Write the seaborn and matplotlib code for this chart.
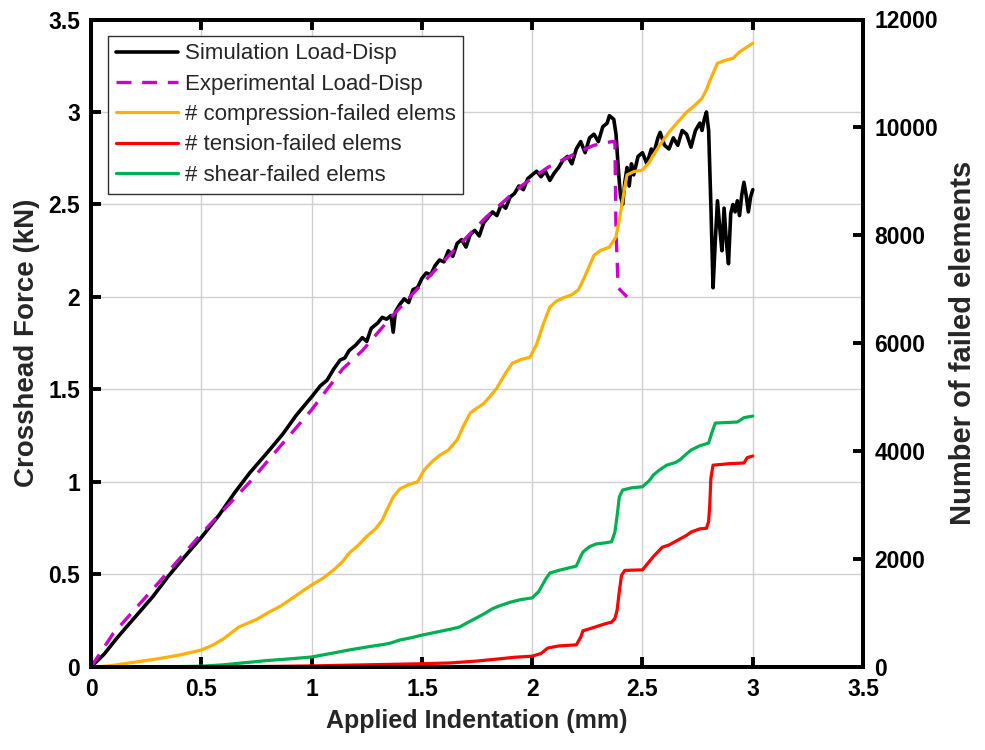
import matplotlib
matplotlib.use("Agg")
import matplotlib.pyplot as plt
import seaborn as sns
import pandas as pd

# ---------------- data ----------------
sim_x = [0.00, 0.06, 0.12, 0.20, 0.28, 0.35, 0.42, 0.50, 0.58, 0.65, 0.72, 0.80, 0.87, 0.93,
         1.00, 1.04, 1.07, 1.10, 1.13, 1.15, 1.17, 1.20, 1.23, 1.25, 1.27, 1.30, 1.32, 1.34,
         1.36, 1.37, 1.38, 1.40, 1.42, 1.44, 1.46, 1.48, 1.50, 1.52, 1.54, 1.56, 1.58, 1.60,
         1.62, 1.64, 1.66, 1.68, 1.70, 1.72, 1.74, 1.76, 1.78, 1.80, 1.82, 1.84, 1.86, 1.88,
         1.90, 1.92, 1.94, 1.96, 1.98, 2.00, 2.02, 2.04, 2.06, 2.08, 2.10, 2.12, 2.14, 2.16,
         2.18, 2.20, 2.22, 2.24, 2.26, 2.28, 2.30, 2.32, 2.34, 2.35, 2.37, 2.38, 2.39, 2.40,
         2.41, 2.42, 2.43, 2.44, 2.45, 2.46, 2.48, 2.50, 2.52, 2.54, 2.55, 2.57, 2.58, 2.60,
         2.62, 2.64, 2.66, 2.68, 2.70, 2.72, 2.74, 2.76, 2.77, 2.78, 2.79, 2.80, 2.81, 2.82,
         2.83, 2.84, 2.85, 2.86, 2.87, 2.88, 2.89, 2.90, 2.91, 2.92, 2.93, 2.94, 2.95, 2.96,
         2.97, 2.98, 2.99, 3.00]
sim_y = [0.00, 0.07, 0.16, 0.27, 0.38, 0.49, 0.59, 0.70, 0.82, 0.94, 1.05, 1.16, 1.26, 1.36,
         1.46, 1.52, 1.55, 1.61, 1.66, 1.67, 1.71, 1.74, 1.78, 1.76, 1.83, 1.86, 1.89, 1.88,
         1.90, 1.81, 1.92, 1.96, 1.99, 1.97, 2.04, 2.05, 2.10, 2.13, 2.12, 2.17, 2.20, 2.19,
         2.25, 2.22, 2.29, 2.31, 2.27, 2.34, 2.36, 2.33, 2.40, 2.43, 2.46, 2.44, 2.50, 2.48,
         2.54, 2.56, 2.60, 2.58, 2.64, 2.66, 2.68, 2.65, 2.68, 2.63, 2.67, 2.70, 2.74, 2.76,
         2.72, 2.80, 2.84, 2.78, 2.86, 2.88, 2.84, 2.92, 2.94, 2.98, 2.96, 2.88, 2.70, 2.55,
         2.50, 2.62, 2.70, 2.60, 2.72, 2.66, 2.76, 2.78, 2.72, 2.80, 2.77, 2.86, 2.89, 2.82,
         2.80, 2.86, 2.82, 2.90, 2.88, 2.81, 2.90, 2.94, 2.90, 2.96, 3.00, 2.90, 2.50, 2.05,
         2.30, 2.52, 2.38, 2.25, 2.48, 2.30, 2.18, 2.45, 2.50, 2.46, 2.52, 2.44, 2.55, 2.62,
         2.55, 2.46, 2.54, 2.58]

exp_x = [0.00, 0.10, 0.28, 0.50, 0.72, 0.87, 1.00, 1.14, 1.23, 1.36, 1.50, 1.66, 1.79, 1.95,
         2.07, 2.22, 2.28, 2.36, 2.375, 2.38, 2.39, 2.43]
exp_y = [0.00, 0.18, 0.42, 0.72, 1.00, 1.21, 1.39, 1.61, 1.71, 1.89, 2.07, 2.27, 2.43, 2.60,
         2.70, 2.79, 2.82, 2.84, 2.84, 2.35, 2.05, 2.00]

comp_x = [0.00, 0.05, 0.10, 0.20, 0.30, 0.40, 0.50, 0.55, 0.60, 0.67, 0.75, 0.80, 0.86, 0.90,
          0.95, 1.00, 1.05, 1.10, 1.14, 1.17, 1.21, 1.25, 1.29, 1.32, 1.34, 1.37, 1.40, 1.44,
          1.48, 1.51, 1.55, 1.58, 1.62, 1.66, 1.69, 1.72, 1.75, 1.78, 1.81, 1.84, 1.88, 1.91,
          1.95, 1.99, 2.02, 2.05, 2.08, 2.11, 2.14, 2.18, 2.21, 2.24, 2.28, 2.31, 2.35, 2.38,
          2.40, 2.42, 2.43, 2.46, 2.50, 2.53, 2.55, 2.58, 2.62, 2.66, 2.70, 2.74, 2.77, 2.79,
          2.81, 2.84, 2.88, 2.91, 2.94, 2.97, 3.00]
comp_n = [0, 10, 30, 90, 150, 220, 315, 400, 520, 740, 880, 1000, 1130, 1240,
          1380, 1520, 1640, 1800, 1950, 2110, 2250, 2420, 2560, 2720, 2900, 3150, 3300, 3380,
          3430, 3650, 3820, 3920, 4020, 4210, 4480, 4710, 4800, 4880, 5020, 5170, 5450, 5630,
          5700, 5740, 5980, 6350, 6670, 6780, 6840, 6900, 6990, 7250, 7630, 7720, 7780, 7970,
          8400, 8900, 9120, 9180, 9210, 9350, 9490, 9680, 9910, 10100, 10280, 10420, 10540, 10700,
          10910, 11190, 11250, 11280, 11400, 11480, 11560]

tens_x = [0.00, 0.60, 0.80, 1.00, 1.25, 1.50, 1.63, 1.75, 1.85, 1.92, 2.00, 2.04, 2.07, 2.12,
          2.20, 2.22, 2.23, 2.27, 2.33, 2.36, 2.375, 2.385, 2.395, 2.405, 2.42, 2.50, 2.52, 2.55,
          2.59, 2.62, 2.66, 2.70, 2.72, 2.76, 2.79, 2.80, 2.805, 2.81, 2.82, 2.90, 2.96, 2.975, 3.00]
tens_n = [0, 0, 10, 20, 40, 60, 75, 110, 150, 180, 200, 250, 350, 390,
          410, 550, 670, 720, 800, 830, 900, 1050, 1400, 1700, 1790, 1800, 1900, 2050,
          2220, 2260, 2350, 2440, 2500, 2560, 2570, 2700, 3000, 3500, 3740, 3770, 3780, 3880, 3910]

shear_x = [0.00, 0.30, 0.50, 0.60, 0.70, 0.80, 0.90, 1.00, 1.10, 1.17, 1.25, 1.33, 1.36, 1.40,
           1.45, 1.50, 1.57, 1.63, 1.67, 1.72, 1.78, 1.82, 1.85, 1.90, 1.95, 2.00, 2.03, 2.06,
           2.08, 2.12, 2.16, 2.20, 2.22, 2.23, 2.26, 2.29, 2.33, 2.36, 2.375, 2.385, 2.395, 2.41,
           2.45, 2.50, 2.53, 2.55, 2.58, 2.61, 2.65, 2.67, 2.70, 2.72, 2.76, 2.80, 2.815, 2.83,
           2.88, 2.93, 2.96, 3.00]
shear_n = [0, 0, 15, 40, 80, 120, 150, 185, 260, 315, 370, 420, 445, 500,
           540, 590, 650, 700, 740, 850, 980, 1080, 1130, 1200, 1250, 1280, 1400, 1620,
           1740, 1790, 1830, 1870, 2050, 2130, 2230, 2280, 2300, 2320, 2500, 2800, 3150, 3280,
           3320, 3340, 3450, 3560, 3660, 3740, 3790, 3840, 3950, 4020, 4100, 4150, 4350, 4520,
           4530, 4540, 4620, 4650]

labels = ["Simulation Load-Disp", "Experimental Load-Disp", "# compression-failed elems",
          "# tension-failed elems", "# shear-failed elems"]
colors = ["#000000", "#CC00CC", "#FFB000", "#FF0000", "#00B050"]

# ---------------- plot ----------------
sns.set_theme(style="white")
plt.rcParams["font.family"] = ["Liberation Sans", "DejaVu Sans"]
plt.rcParams["font.weight"] = "bold"

fig = plt.figure(figsize=(9.85, 7.5), dpi=100)
ax = fig.add_axes([0.0924, 0.1107, 0.7838, 0.8633])
ax2 = ax.twinx()

df_sim = pd.DataFrame({"x": sim_x, "y": sim_y})
df_exp = pd.DataFrame({"x": exp_x, "y": exp_y})
df_c = pd.DataFrame({"x": comp_x, "y": comp_n})
df_t = pd.DataFrame({"x": tens_x, "y": tens_n})
df_s = pd.DataFrame({"x": shear_x, "y": shear_n})

sns.lineplot(data=df_sim, x="x", y="y", ax=ax, sort=False, estimator=None,
             color=colors[0], lw=2.6, label=labels[0], legend=False)
sns.lineplot(data=df_exp, x="x", y="y", ax=ax, sort=False, estimator=None,
             color=colors[1], lw=2.4, label=labels[1], legend=False)
ax.lines[-1].set_dashes([4.5, 3.2])
sns.lineplot(data=df_c, x="x", y="y", ax=ax2, sort=False, estimator=None,
             color=colors[2], lw=2.3, label=labels[2], legend=False)
sns.lineplot(data=df_t, x="x", y="y", ax=ax2, sort=False, estimator=None,
             color=colors[3], lw=2.3, label=labels[3], legend=False)
sns.lineplot(data=df_s, x="x", y="y", ax=ax2, sort=False, estimator=None,
             color=colors[4], lw=2.3, label=labels[4], legend=False)

ax.set_xlim(0, 3.5)
ax.set_ylim(0, 3.5)
ax2.set_ylim(0, 12000)
ax.set_xticks([0, 0.5, 1, 1.5, 2, 2.5, 3, 3.5])
ax.set_xticklabels(["0", "0.5", "1", "1.5", "2", "2.5", "3", "3.5"])
ax.set_yticks([0, 0.5, 1, 1.5, 2, 2.5, 3, 3.5])
ax.set_yticklabels(["0", "0.5", "1", "1.5", "2", "2.5", "3", "3.5"])
ax2.set_yticks([0, 2000, 4000, 6000, 8000, 10000, 12000])
ax2.set_yticklabels(["0", "2000", "4000", "6000", "8000", "10000", "12000"])

ax.grid(True, color="#D0D0D0", lw=1.0)
ax.set_axisbelow(True)

for a in (ax, ax2):
    for s in a.spines.values():
        s.set_visible(True)
        s.set_color("black")
        s.set_linewidth(2.8)
    a.tick_params(direction="in", length=7, width=2.8, labelsize=16.5, pad=8, colors="black")
ax.tick_params(top=True, right=False, left=True, bottom=True)
ax2.tick_params(right=True, left=False)
for lab in ax.get_xticklabels() + ax.get_yticklabels() + ax2.get_yticklabels():
    lab.set_fontweight("bold")

ax.set_xlabel("Applied Indentation (mm)", fontsize=18, fontweight="bold", labelpad=6)
ax.set_ylabel("Crosshead Force (kN)", fontsize=20, fontweight="bold", labelpad=6)
ax2.set_ylabel("Number of failed elements", fontsize=21, fontweight="bold", labelpad=8)

h1, l1 = ax.get_legend_handles_labels()
h2, l2 = ax2.get_legend_handles_labels()
leg = ax2.legend(h1 + h2, l1 + l2, loc="upper left", bbox_to_anchor=(0.022, 0.975),
                 frameon=True, fancybox=False, framealpha=1, edgecolor="#303030",
                 prop={"family": ["Liberation Sans"], "size": 16, "weight": "normal"},
                 handlelength=2.8, handletextpad=0.3, labelspacing=0.42, borderpad=0.35,
                 borderaxespad=0)
leg.get_frame().set_linewidth(1.0)

fig.savefig("out.png", dpi=100)
